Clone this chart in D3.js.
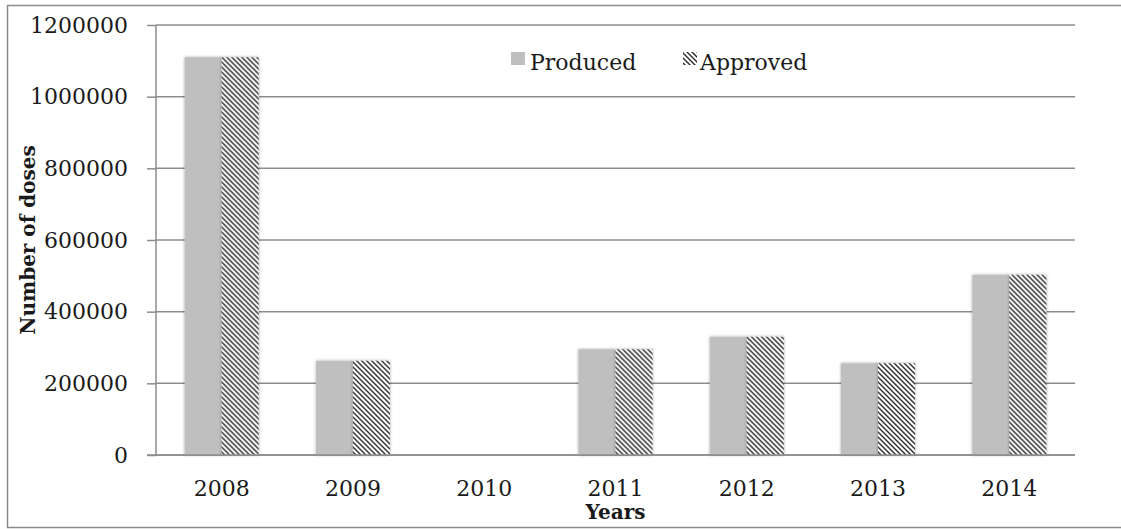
<!DOCTYPE html>
<meta charset="utf-8">
<script src="https://d3js.org/d3.v7.min.js"></script>
<style>
  body { margin: 0; background: #fff; }
  text { font-family: "DejaVu Serif", serif; fill: #1a1a1a; }
</style>
<div id="chart"></div>
<script>

    // data
    var years = ["2008", "2009", "2010", "2011", "2012", "2013", "2014"];
    var produced = [1110000, 263000, 0, 295000, 330000, 256000, 503000];
    var approved = [1110000, 263000, 0, 295000, 330000, 256000, 503000];
    var series = ["Produced", "Approved"];
    var yTicks = [0, 200000, 400000, 600000, 800000, 1000000, 1200000];

    var W = 1121, H = 529;
    var plotLeft = 156, plotRight = 1075, plotTop = 25, plotBottom = 455;

    var svg = d3.select("#chart")
        .append("svg")
        .attr("width", W)
        .attr("height", H);

    var defs = svg.append("defs");

    // diagonal hatch for the "Approved" bars
    var pat = defs.append("pattern")
        .attr("id", "hatch")
        .attr("patternUnits", "userSpaceOnUse")
        .attr("width", 5)
        .attr("height", 5);
    pat.append("rect").attr("width", 5).attr("height", 5).attr("fill", "#fff");
    pat.append("path")
        .attr("d", "M-1,-1L6,6M-1,4L1,6M4,-1L6,1")
        .attr("stroke", "#2a2a2a")
        .attr("stroke-width", 1.4);

    // soft shadow like the office chart
    var f = defs.append("filter").attr("id", "shadow")
        .attr("x", "-30%").attr("y", "-10%").attr("width", "160%").attr("height", "120%");
    f.append("feDropShadow")
        .attr("dx", 0).attr("dy", 0)
        .attr("stdDeviation", 1.6)
        .attr("flood-color", "#000")
        .attr("flood-opacity", 0.35);

    // outer frame
    svg.append("rect")
        .attr("x", 7.5).attr("y", 5.5)
        .attr("width", 1120).attr("height", 522)
        .attr("fill", "none")
        .attr("stroke", "#8c8c8c")
        .attr("stroke-width", 1.5);

    var y = d3.scaleLinear()
        .domain([0, 1200000])
        .range([plotBottom, plotTop]);

    var x = d3.scaleBand()
        .domain(years)
        .range([plotLeft, plotRight])
        .paddingInner(0.436)
        .paddingOuter(0.218);

    var xs = d3.scaleBand()
        .domain(series)
        .range([0, x.bandwidth()]);

    // gridlines
    svg.append("g")
        .selectAll("line")
        .data(yTicks)
        .enter()
        .append("line")
        .attr("x1", plotLeft).attr("x2", plotRight)
        .attr("y1", function (d) { return y(d); })
        .attr("y2", function (d) { return y(d); })
        .attr("stroke", "#8c8c8c")
        .attr("stroke-width", 1.5);

    // y ticks + labels
    var yAxis = svg.append("g")
        .attr("transform", "translate(" + plotLeft + ",0)")
        .call(d3.axisLeft(y).tickValues(yTicks).tickSize(9).tickPadding(19).tickFormat(d3.format("d")));
    yAxis.select(".domain").remove();
    yAxis.selectAll(".tick line").attr("stroke", "#8c8c8c").attr("stroke-width", 1.5);
    yAxis.selectAll(".tick text")
        .style("font-family", "DejaVu Serif")
        .style("font-size", "22px")
        .attr("fill", "#1a1a1a");

    // y axis line
    svg.append("line")
        .attr("x1", plotLeft).attr("x2", plotLeft)
        .attr("y1", plotTop).attr("y2", plotBottom)
        .attr("stroke", "#8c8c8c")
        .attr("stroke-width", 1.5);

    // bars
    var groups = svg.append("g")
        .selectAll("g")
        .data(years)
        .enter()
        .append("g")
        .attr("transform", function (d) { return "translate(" + x(d) + ",0)"; });

    groups.filter(function (d, i) { return produced[i] > 0; })
        .append("rect")
        .attr("x", xs("Produced"))
        .attr("y", function (d) { return y(produced[years.indexOf(d)]); })
        .attr("width", xs.bandwidth())
        .attr("height", function (d) { return plotBottom - y(produced[years.indexOf(d)]); })
        .attr("fill", "#bfbfbf")
        .attr("filter", "url(#shadow)");

    groups.filter(function (d, i) { return approved[i] > 0; })
        .append("rect")
        .attr("x", xs("Approved"))
        .attr("y", function (d) { return y(approved[years.indexOf(d)]); })
        .attr("width", xs.bandwidth())
        .attr("height", function (d) { return plotBottom - y(approved[years.indexOf(d)]); })
        .attr("fill", "url(#hatch)")
        .attr("filter", "url(#shadow)");

    // x axis
    var xAxis = svg.append("g")
        .attr("transform", "translate(0," + plotBottom + ")")
        .call(d3.axisBottom(x).tickSize(0).tickPadding(25));
    xAxis.select(".domain").remove();
    xAxis.selectAll(".tick text")
        .style("font-family", "DejaVu Serif")
        .style("font-size", "22px")
        .attr("fill", "#1a1a1a");

    svg.append("line")
        .attr("x1", 147).attr("x2", plotRight)
        .attr("y1", plotBottom).attr("y2", plotBottom)
        .attr("stroke", "#8c8c8c")
        .attr("stroke-width", 1.5);

    // axis titles
    svg.append("text")
        .attr("x", (plotLeft + plotRight) / 2)
        .attr("y", 519)
        .attr("text-anchor", "middle")
        .style("font-size", "20px")
        .style("font-weight", "bold")
        .text("Years");

    svg.append("text")
        .attr("transform", "translate(35," + (plotTop + plotBottom) / 2 + ")rotate(-90)")
        .attr("text-anchor", "middle")
        .style("font-size", "20px")
        .style("font-weight", "bold")
        .text("Number of doses");

    // legend
    var legend = svg.append("g");
    legend.append("rect")
        .attr("x", 511).attr("y", 52)
        .attr("width", 14).attr("height", 13)
        .attr("fill", "#bfbfbf");
    legend.append("text")
        .attr("x", 530).attr("y", 70)
        .style("font-size", "22px")
        .text("Produced");
    legend.append("rect")
        .attr("x", 683).attr("y", 52)
        .attr("width", 14).attr("height", 13)
        .attr("fill", "url(#hatch)");
    legend.append("text")
        .attr("x", 700).attr("y", 70)
        .style("font-size", "22px")
        .text("Approved");

</script>
